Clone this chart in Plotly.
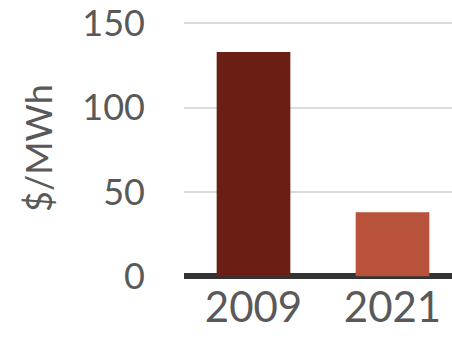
import plotly.graph_objects as go

years = ["2009", "2021"]
cost = [133, 38]
bar_colors = ["#6B1E14", "#B9523A"]
y_ticks = [0, 50, 100, 150]

text_color = "#595959"
font_family = "Lato, 'Open Sans', sans-serif"

fig = go.Figure(
    go.Bar(
        x=years,
        y=cost,
        marker=dict(color=bar_colors, line=dict(width=0)),
        width=0.53,
    )
)

fig.update_layout(
    width=452,
    height=338,
    margin=dict(l=184, r=0, t=1, b=55),
    paper_bgcolor="white",
    plot_bgcolor="white",
    showlegend=False,
    font=dict(family=font_family, color=text_color),
    annotations=[
        dict(
            text="$/MWh",
            textangle=-90,
            xref="paper",
            yref="paper",
            x=-0.545,
            y=0.482,
            xanchor="center",
            yanchor="middle",
            showarrow=False,
            font=dict(size=36, color=text_color, family=font_family),
        )
    ],
)

fig.update_xaxes(
    type="category",
    range=[-0.5, 1.428],
    showgrid=False,
    showline=False,
    ticks="",
    tickfont=dict(size=42, color=text_color),
    ticklabelstandoff=-4,
)

fig.update_yaxes(
    range=[-4, 162],
    tickvals=y_ticks,
    showgrid=True,
    gridcolor="#DCDCDC",
    gridwidth=1.5,
    zeroline=True,
    zerolinecolor="#333333",
    zerolinewidth=6,
    showline=False,
    ticks="",
    tickfont=dict(size=36, color=text_color),
    ticklabelstandoff=38,
    ticklabeloverflow="allow",
)

fig.write_html("out.html")
